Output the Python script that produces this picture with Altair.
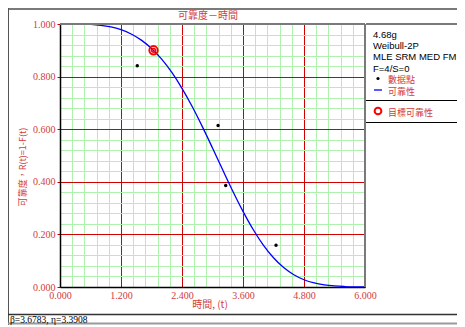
import altair as alt
import pandas as pd

# ---- data ----
curve_t = [0.0, 0.4, 0.8, 1.0, 1.2, 1.4, 1.6, 1.8, 2.0, 2.2, 2.4, 2.6, 2.8, 3.0, 3.2,
           3.4, 3.6, 3.8, 4.0, 4.2, 4.4, 4.6, 4.8, 5.0, 5.2, 5.4, 5.6, 5.8, 6.0]
curve_r = [1.0, 0.9996, 0.9951, 0.9889, 0.9783, 0.9621, 0.9388, 0.9072, 0.8664, 0.8158,
           0.7554, 0.6863, 0.6099, 0.5287, 0.4457, 0.3642, 0.2876, 0.2186, 0.1594, 0.1111,
           0.0737, 0.0464, 0.0276, 0.0154, 0.0081, 0.0039, 0.0018, 0.0007, 0.0003]
pt_t = [1.52, 3.11, 3.26, 4.25]
pt_r = [0.841, 0.614, 0.386, 0.159]
target_t = [1.84]
target_r = [0.90]

x_major = [0.0, 1.2, 2.4, 3.6, 4.8, 6.0]
y_major = [0.0, 0.2, 0.4, 0.6, 0.8, 1.0]
x_minor = [round(0.24 * i, 2) for i in range(26)]
y_minor = [round(0.04 * i, 2) for i in range(26)]

info_lines = ["4.68g", "Weibull-2P", "MLE SRM MED FM", "F=4/S=0"]
legend_labels = ["數据點", "可靠性", "目標可靠性"]
title_text = "可靠度－時間"
x_title = "時間, (t)"
y_title = "可靠度，R(t)=1-F(t)"
param_text = "β=3.6783, η=3.3908"

# ---- styling ----
W, H = 305, 263
RED = "#d00000"
LABEL = "#d23c3c"
GREEN = "#aef2ae"
CJK = "Noto Sans CJK TC"

xs = alt.Scale(domain=[0, 6], nice=False, zero=False)
ys = alt.Scale(domain=[0, 1], nice=False, zero=False)

one = pd.DataFrame({"k": [0]})

minor_x_axis = alt.Axis(values=x_minor, grid=True, gridColor=GREEN, gridWidth=1,
                        labels=False, ticks=False, domain=False, title=None, orient="bottom")
minor_y_axis = alt.Axis(values=y_minor, grid=True, gridColor=GREEN, gridWidth=1,
                        labels=False, ticks=False, domain=False, title=None, orient="left")
major_x_axis = alt.Axis(values=x_major, grid=True, gridColor=RED, gridWidth=1,
                        labels=True, format=".3f", labelFont="Liberation Serif",
                        labelFontSize=10, labelColor=LABEL, ticks=False, domain=True,
                        domainColor="black", domainWidth=1.5, labelPadding=3,
                        labelFlush=False, labelOverlap=False, title=None, orient="bottom")
major_y_axis = alt.Axis(values=y_major, grid=True, gridColor=RED, gridWidth=1,
                        labels=True, format=".3f", labelFont="Liberation Serif",
                        labelFontSize=10, labelColor=LABEL, ticks=True, tickColor=RED,
                        tickSize=3, domain=True, domainColor="black", domainWidth=1.5,
                        labelPadding=2, labelFlush=False, labelOverlap=False,
                        title=None, orient="left")

curve = alt.Chart(pd.DataFrame({"t": curve_t, "r": curve_r})).mark_line(
    color="#0000ff", strokeWidth=1.3, interpolate="monotone"
).encode(
    x=alt.X("t:Q", scale=xs, axis=minor_x_axis),
    y=alt.Y("r:Q", scale=ys, axis=minor_y_axis),
)

points = alt.Chart(pd.DataFrame({"t": pt_t, "r": pt_r})).mark_point(
    shape="circle", filled=True, color="black", size=12, opacity=1
).encode(
    x=alt.X("t:Q", scale=xs, axis=major_x_axis),
    y=alt.Y("r:Q", scale=ys, axis=major_y_axis),
)

tgt_df = pd.DataFrame({"t": target_t, "r": target_r})
target_outer = alt.Chart(tgt_df).mark_point(
    shape="circle", filled=False, color="#ff0000", size=70, strokeWidth=2, opacity=1
).encode(x=alt.X("t:Q", scale=xs, axis=None), y=alt.Y("r:Q", scale=ys, axis=None))
target_inner = alt.Chart(tgt_df).mark_point(
    shape="circle", filled=False, color="#ff0000", size=14, strokeWidth=1.5, opacity=1
).encode(x=alt.X("t:Q", scale=xs, axis=None), y=alt.Y("r:Q", scale=ys, axis=None))


def hrule(y, x1, x2, color, width):
    return alt.Chart(one).mark_rule(color=color, strokeWidth=width).encode(
        x=alt.value(x1), x2=alt.value(x2), y=alt.value(y))


def vrule(x, y1, y2, color, width):
    return alt.Chart(one).mark_rule(color=color, strokeWidth=width).encode(
        x=alt.value(x), y=alt.value(y1), y2=alt.value(y2))


def label(s, x, y, color="black", size=10, font="Liberation Sans", align="left", angle=0):
    kw = dict(align=align, baseline="middle", color=color, fontSize=size, font=font)
    if angle:
        kw["angle"] = angle
    return alt.Chart(one).mark_text(**kw).encode(
        x=alt.value(x), y=alt.value(y), text=alt.value(s))


RIGHT_EDGE = 397
borders = [
    hrule(0, 0, W, "#7a7a7a", 2),                   # plot top
    vrule(W, 0, H, "#7a7a7a", 2),                   # plot right
    hrule(-15, -52, RIGHT_EDGE, "#7a7a7a", 2),      # outer top
    vrule(-51.5, -16, 301, "#555555", 1),           # outer left
    hrule(290.5, -52, RIGHT_EDGE, "#333333", 1.5),  # strip top
    hrule(299.5, -52, RIGHT_EDGE, "#9a9a9a", 2),    # strip bottom
    hrule(0, 306, RIGHT_EDGE, "#7a7a7a", 2),        # panel top
    hrule(76.5, 306, RIGHT_EDGE, "black", 1),
    hrule(98.5, 306, RIGHT_EDGE, "black", 1),
]

texts = [
    label(title_text, 148, -8, color=LABEL, size=10, font=CJK, align="center"),
    label(x_title, 150, 281, color=LABEL, size=10, font=CJK, align="center"),
    label(y_title, -37, 143, color=LABEL, size=9, font=CJK, align="center", angle=270),
    label(param_text, -50, 295.5, color="black", size=9.5, font="Liberation Serif"),
]
for i, s in enumerate(info_lines):
    texts.append(label(s, 313, 11 + i * 11.2, size=9.5))

legend_y = [56, 67.5, 88.5]
for s, yy in zip(legend_labels, legend_y):
    texts.append(label(s, 328, yy, color=LABEL, size=9, font=CJK))

leg_dot = alt.Chart(one).mark_point(shape="circle", filled=True, color="black",
                                    size=10, opacity=1).encode(
    x=alt.value(318), y=alt.value(54.5))
leg_line = hrule(66, 314, 322, "#0000ff", 1.3)
leg_ring = alt.Chart(one).mark_point(shape="circle", filled=False, color="#ff0000",
                                     size=45, strokeWidth=2, opacity=1).encode(
    x=alt.value(318), y=alt.value(87))

chart = alt.layer(
    curve, points, target_outer, target_inner, *borders, *texts, leg_dot, leg_line, leg_ring
).resolve_axis(x="independent", y="independent").properties(
    width=W, height=H,
    padding={"left": 52, "top": 16, "right": 92, "bottom": 38},
    autosize=alt.AutoSizeParams(type="none"),
).configure_view(stroke=None).configure(background="white")

chart.save("out.html", embed_options={"renderer": "svg", "actions": False})
